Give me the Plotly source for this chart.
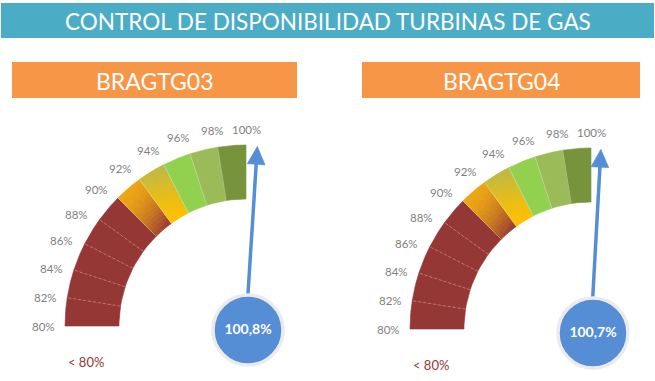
import numpy as np
import plotly.graph_objects as go

# ---------------- data ----------------
title_text = "CONTROL DE DISPONIBILIDAD TURBINAS DE GAS"
gauge_names = ["BRAGTG03", "BRAGTG04"]
gauge_values = [100.8, 100.7]
value_labels = ["100,8%", "100,7%"]
tick_values = [80, 82, 84, 86, 88, 90, 92, 94, 96, 98, 100]
tick_labels = ["80%", "82%", "84%", "86%", "88%", "90%", "92%", "94%", "96%", "98%", "100%"]
band_starts = [80, 82, 84, 86, 88, 90, 92, 94, 96, 98]
band_ends = [82, 84, 86, 88, 90, 92, 94, 96, 98, 100]
band_color_from = ["#953735", "#953735", "#953735", "#953735", "#953735",
                   "#EDA714", "#FFC000", "#92D050", "#9BBB59", "#77933C"]
band_color_to = ["#953735", "#953735", "#953735", "#953735", "#953735",
                 "#953735", "#B8B84A", "#92D050", "#9BBB59", "#77933C"]
below_text = "< 80%"

# ---------------- layout constants ----------------
W, H = 655, 381
centers = [(246, 326), (591, 329)]
R_OUT, R_IN = 181, 127
VMIN, VMAX = tick_values[0], tick_values[-1]
banner_x = [(12, 297), (362, 640)]
BLUE = "#558ED5"
FONT = "Lato"

# gradient geometry: (radius, fraction along band) start, end, and curve exponent
grad_geom = {
    5: ((R_OUT, 0.3), (R_IN, 1.0), 1.7),
    6: ((R_IN, 0.2), (R_OUT, 1.05), 1.3),
}


def ang(v):
    return np.radians(180 - (v - VMIN) / (VMAX - VMIN) * 90)


def pt(c, r, v):
    a = ang(v)
    return c[0] + r * np.cos(a), c[1] - r * np.sin(a)


def hex2rgb(h):
    h = h.lstrip("#")
    return np.array([int(h[i:i + 2], 16) for i in (0, 2, 4)], dtype=float)


def rgb2hex(c):
    return "#%02x%02x%02x" % tuple(int(round(x)) for x in c)


fig = go.Figure()

for gi, c in enumerate(centers):
    for bi, (v0, v1) in enumerate(zip(band_starts, band_ends)):
        c0, c1 = band_color_from[bi], band_color_to[bi]
        if c0 == c1:
            vs = np.linspace(v0, v1, 30)
            xs, ys = [], []
            for v in vs:
                x, y = pt(c, R_OUT, v); xs.append(x); ys.append(y)
            for v in vs[::-1]:
                x, y = pt(c, R_IN, v); xs.append(x); ys.append(y)
            xs.append(xs[0]); ys.append(ys[0])
            fig.add_trace(go.Scatter(x=xs, y=ys, fill="toself", fillcolor=c0,
                                     line=dict(width=0.6, color=c0), mode="lines",
                                     hoverinfo="skip"))
        else:
            (ra, fa), (rb, fb), gam = grad_geom[bi]
            A = np.array(pt(c, ra, v0 + (v1 - v0) * fa))
            B = np.array(pt(c, rb, v0 + (v1 - v0) * fb))
            AB = B - A
            ca, cb = hex2rgb(c0), hex2rgb(c1)
            na, nr, nq = 20, 14, 40
            groups = {}
            vgrid = np.linspace(v0, v1, na + 1)
            rgrid = np.linspace(R_IN, R_OUT, nr + 1)
            for i in range(na):
                for j in range(nr):
                    vm = (vgrid[i] + vgrid[i + 1]) / 2
                    rm = (rgrid[j] + rgrid[j + 1]) / 2
                    p = np.array(pt(c, rm, vm))
                    t = np.clip(np.dot(p - A, AB) / np.dot(AB, AB), 0, 1) ** gam
                    q = int(round(t * nq))
                    corners = [pt(c, rgrid[j], vgrid[i]), pt(c, rgrid[j + 1], vgrid[i]),
                               pt(c, rgrid[j + 1], vgrid[i + 1]), pt(c, rgrid[j], vgrid[i + 1])]
                    corners.append(corners[0])
                    groups.setdefault(q, []).append(corners)
            for q, polys in groups.items():
                col = rgb2hex(ca + (cb - ca) * q / nq)
                xs, ys = [], []
                for poly in polys:
                    xs += [p[0] for p in poly] + [None]
                    ys += [p[1] for p in poly] + [None]
                fig.add_trace(go.Scatter(x=xs, y=ys, fill="toself", fillcolor=col,
                                         line=dict(width=0.8, color=col), mode="lines",
                                         hoverinfo="skip"))

    # dividers
    for v in tick_values[1:-1]:
        x0, y0 = pt(c, R_IN, v)
        x1, y1 = pt(c, R_OUT, v)
        if v < 90:
            ln = dict(width=1, color="rgba(230,160,160,0.55)", dash="3px,2px")
        else:
            ln = dict(width=1, color="rgba(255,255,255,0.3)")
        fig.add_trace(go.Scatter(x=[x0, x1], y=[y0, y1], mode="lines", line=ln,
                                 hoverinfo="skip"))

    # tick labels
    for v, lab in zip(tick_values, tick_labels):
        a_deg = 180 - (v - VMIN) / (VMAX - VMIN) * 90
        off = 2.7 * np.sin(np.radians(2 * (a_deg - 90)))
        rr = 203 - 6 * (1 - (a_deg - 90) / 90) ** 3
        a = np.radians(a_deg + off)
        fig.add_annotation(x=c[0] + rr * np.cos(a), y=c[1] - rr * np.sin(a), text=lab,
                           showarrow=False, xanchor="center", yanchor="middle",
                           font=dict(family=FONT, size=11.5, color="#7F7F7F"))

    # arrow (needle)
    val = gauge_values[gi]
    a = ang(val)
    d = np.array([np.cos(a), -np.sin(a)])
    n = np.array([d[1], -d[0]])
    cc = np.array(c, dtype=float)
    tip = cc + d * 180
    base = cc + d * 162
    s0 = cc + d * 30
    s1 = cc + d * 165
    fig.add_trace(go.Scatter(x=[s0[0], s1[0]], y=[s0[1], s1[1]], mode="lines",
                             line=dict(width=3.5, color=BLUE), hoverinfo="skip"))
    h1 = base + n * 9
    h2 = base - n * 9
    fig.add_trace(go.Scatter(x=[tip[0], h1[0], h2[0], tip[0]], y=[tip[1], h1[1], h2[1], tip[1]],
                             mode="lines", fill="toself", fillcolor=BLUE,
                             line=dict(width=0.5, color=BLUE), hoverinfo="skip"))

    # value circle
    fig.add_trace(go.Scatter(x=[c[0] + 2], y=[c[1] + 4], mode="markers+text",
                             marker=dict(size=70, color=BLUE, line=dict(width=3.5, color="#EBEBEB")),
                             text=["<b>" + value_labels[gi] + "</b>"], textposition="middle center",
                             textfont=dict(family=FONT, size=14, color="white"),
                             hoverinfo="skip"))

    # < 80% text
    fig.add_annotation(x=c[0] - 160, y=c[1] + 36, text=below_text, showarrow=False,
                       xanchor="center", yanchor="middle",
                       font=dict(family=FONT, size=13, color="#943634"))

    # orange banner
    bx0, bx1 = banner_x[gi]
    fig.add_shape(type="rect", x0=bx0, x1=bx1, y0=62, y1=98, xref="x", yref="y",
                  fillcolor="#F79646", line=dict(width=0), layer="below")
    fig.add_annotation(x=(bx0 + bx1) / 2, y=80.5, text=gauge_names[gi], showarrow=False,
                       xanchor="center", yanchor="middle",
                       font=dict(family=FONT, size=23, color="white"))

# title banner
fig.add_shape(type="rect", x0=1, x1=654, y0=3, y1=38, xref="x", yref="y",
              fillcolor="#4BACC6", line=dict(width=0), layer="below")
fig.add_annotation(x=328, y=21.5, text=title_text, showarrow=False,
                   xanchor="center", yanchor="middle",
                   font=dict(family=FONT, size=22.5, color="white"))

fig.update_layout(
    width=W, height=H, margin=dict(l=0, r=0, t=0, b=0),
    paper_bgcolor="white", plot_bgcolor="white", showlegend=False, hovermode=False,
    xaxis=dict(range=[0, W], visible=False, fixedrange=True),
    yaxis=dict(range=[H, 0], visible=False, fixedrange=True),
)

fig.write_html("out.html", config={"displayModeBar": False},
               post_script="document.body.style.margin='0';document.body.style.overflow='hidden';")
